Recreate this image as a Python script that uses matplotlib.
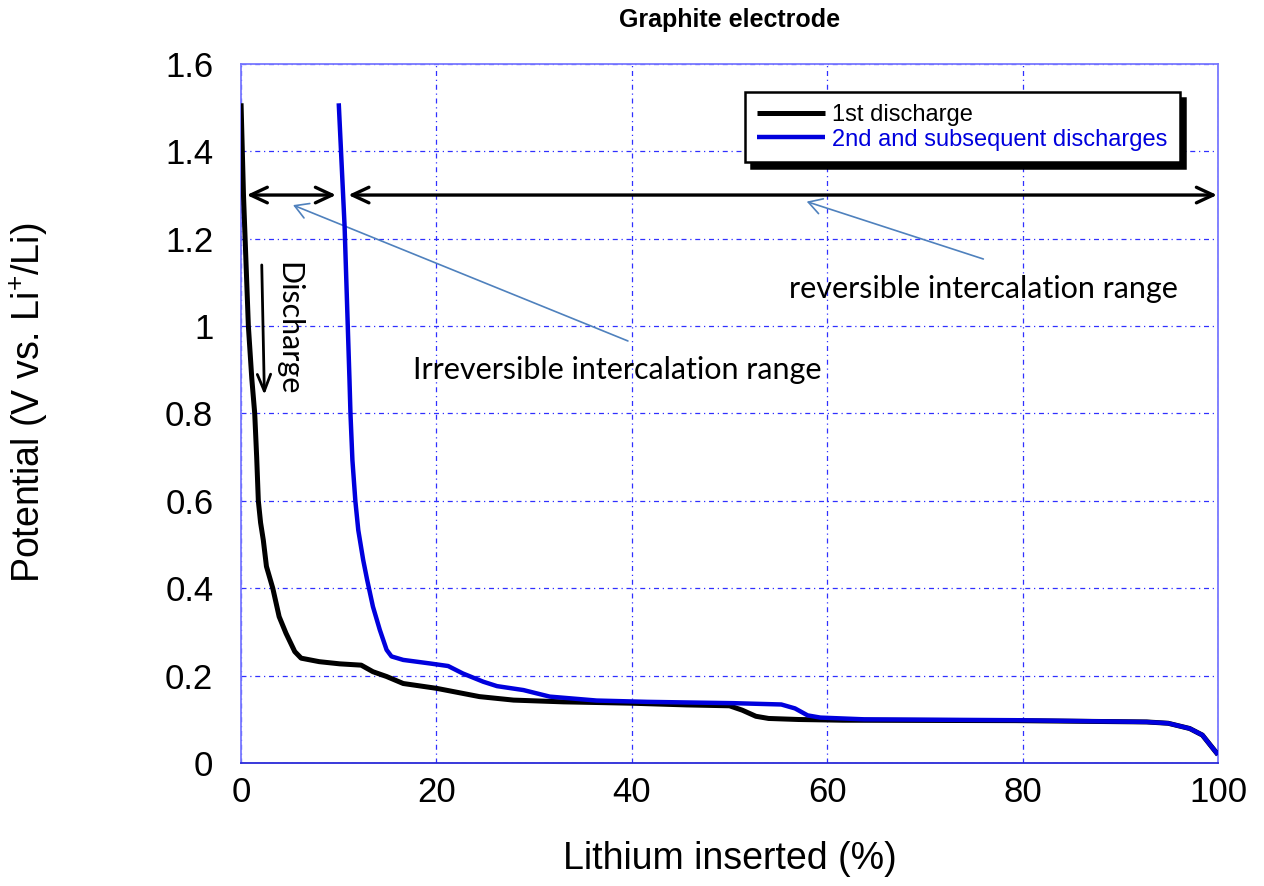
import numpy as np
import matplotlib
matplotlib.use("Agg")
import matplotlib.pyplot as plt

plt.rcParams['font.family'] = ['Liberation Sans', 'DejaVu Sans']
plt.rcParams['mathtext.default'] = 'regular'

# 1st discharge (black)
x_first = [0, 0.25, 0.5, 0.75, 1.1, 1.4, 1.6, 1.77, 2.0, 2.28, 2.6, 3.25, 3.9,
           4.6, 5.5, 6.15, 8.0, 10.1, 12.3, 13.5, 14.9, 16.6, 20.0, 24.4, 27.9,
           33.0, 39.8, 45.6, 50.0, 51.3, 52.7, 54.0, 57.1, 61.6, 79.3, 92.7,
           94.9, 97.1, 98.4, 100]
y_first = [1.51, 1.30, 1.15, 1.00, 0.88, 0.80, 0.70, 0.60, 0.55, 0.51, 0.45,
           0.40, 0.335, 0.297, 0.255, 0.240, 0.232, 0.227, 0.224, 0.209, 0.198,
           0.182, 0.171, 0.152, 0.144, 0.140, 0.137, 0.133, 0.131, 0.121, 0.107,
           0.102, 0.0996, 0.098, 0.097, 0.094, 0.091, 0.079, 0.064, 0.019]

# 2nd and subsequent discharges (blue)
x_second = [10.0, 10.6, 11.1, 11.2, 11.4, 11.7, 12.0, 12.5, 12.9, 13.5, 14.2,
            14.9, 15.4, 16.6, 19.3, 21.2, 22.7, 24.8, 26.2, 28.9, 31.6, 36.4,
            41.6, 50.4, 55.3, 56.7, 58.0, 59.3, 63.8, 79.3, 92.7, 94.9, 97.1,
            98.4, 100]
y_second = [1.51, 1.228, 0.877, 0.80, 0.693, 0.60, 0.533, 0.465, 0.42, 0.358,
            0.305, 0.259, 0.244, 0.236, 0.228, 0.222, 0.205, 0.186, 0.176, 0.167,
            0.152, 0.143, 0.140, 0.137, 0.134, 0.125, 0.109, 0.104, 0.100, 0.098,
            0.094, 0.091, 0.079, 0.064, 0.019]

x_ticks = [0, 20, 40, 60, 80, 100]
y_ticks = [0, 0.2, 0.4, 0.6, 0.8, 1.0, 1.2, 1.4, 1.6]
y_tick_labels = ['0', '0.2', '0.4', '0.6', '0.8', '1', '1.2', '1.4', '1.6']

fig = plt.figure(figsize=(12.64, 8.86), dpi=100)
ax = fig.add_axes([0.1907, 0.1388, 0.7729, 0.7890])

ax.plot(x_first, y_first, color='black', lw=3.6, solid_capstyle='butt',
        label='1st discharge', zorder=3)
ax.plot(x_second, y_second, color='#0000dd', lw=3.2, solid_capstyle='butt',
        label='2nd and subsequent discharges', zorder=4)

ax.set_xlim(0, 100)
ax.set_ylim(0, 1.6)
ax.set_xticks(x_ticks)
ax.set_yticks(y_ticks)
ax.set_yticklabels(y_tick_labels)
ax.tick_params(axis='both', length=0, labelsize=25)
ax.tick_params(axis='y', pad=20)
ax.tick_params(axis='x', pad=9)

ax.grid(True, color='#3030ff', lw=0.9, linestyle=(0, (4, 3, 1, 3)), zorder=0)
for side in ['left', 'top', 'right']:
    ax.spines[side].set_color('#7878ff')
    ax.spines[side].set_linewidth(1.3)
ax.spines['bottom'].set_color('#2a2ad8')
ax.spines['bottom'].set_linewidth(1.3)

ax.set_xlabel('Lithium inserted (%)', fontsize=27)
ax.xaxis.set_label_coords(0.5, -0.112)
ax.set_ylabel('Potential (V vs. Li$^{+}$/Li)', fontsize=27)
ax.yaxis.set_label_coords(-0.1955, 0.515)

ax.text(0.5, 1.063, 'Graphite electrode', transform=ax.transAxes,
        ha='center', va='center', fontsize=18, fontweight='bold')

leg = ax.legend(loc='upper left', bbox_to_anchor=(745 / 1264, 1 - 92 / 886),
                bbox_transform=fig.transFigure, fontsize=17, frameon=True,
                fancybox=False, edgecolor='black', framealpha=1,
                borderpad=0.5, labelspacing=0.12, handlelength=2.9,
                handletextpad=0.3, borderaxespad=0, labelcolor='linecolor',
                shadow={'ox': 4, 'oy': -4, 'facecolor': 'black',
                        'edgecolor': 'black', 'alpha': 1})
leg.get_frame().set_linewidth(1.8)
leg.set_zorder(6)

# double headed range arrows at 1.3 V
arrow_kw = dict(arrowstyle='<->,head_length=0.6,head_width=0.28',
                color='black', lw=2.4, mutation_scale=20, shrinkA=0, shrinkB=0)
ax.annotate('', xy=(9.72, 1.3), xytext=(0.58, 1.3), arrowprops=arrow_kw, zorder=5)
ax.annotate('', xy=(99.9, 1.3), xytext=(10.98, 1.3), arrowprops=arrow_kw,
            annotation_clip=False, zorder=5)

# discharge direction
ax.annotate('', xy=(2.39, 0.843), xytext=(2.12, 1.14),
            arrowprops=dict(arrowstyle='->,head_length=0.6,head_width=0.24',
                            color='black', lw=2.0, mutation_scale=20,
                            shrinkA=0, shrinkB=0))
ax.text(4.8, 0.994, 'Discharge', rotation=-90, ha='center', va='center',
        fontsize=22, family=['Lato', 'DejaVu Sans'])

# pointer lines to the range labels
thin_kw = dict(arrowstyle='->,head_length=0.6,head_width=0.35', color='#4f81bd',
               lw=1.2, mutation_scale=16, shrinkA=0, shrinkB=0)
ax.annotate('', xy=(5.32, 1.277), xytext=(39.6, 0.966), arrowprops=thin_kw)
ax.annotate('', xy=(57.9, 1.285), xytext=(75.98, 1.1536), arrowprops=thin_kw)

ax.text(38.5, 0.90, 'Irreversible intercalation range', ha='center', va='center',
        fontsize=22, family=['Lato', 'DejaVu Sans'])
ax.text(75.98, 1.085, 'reversible intercalation range', ha='center', va='center',
        fontsize=22, family=['Lato', 'DejaVu Sans'])

fig.savefig('out.png', dpi=100)
